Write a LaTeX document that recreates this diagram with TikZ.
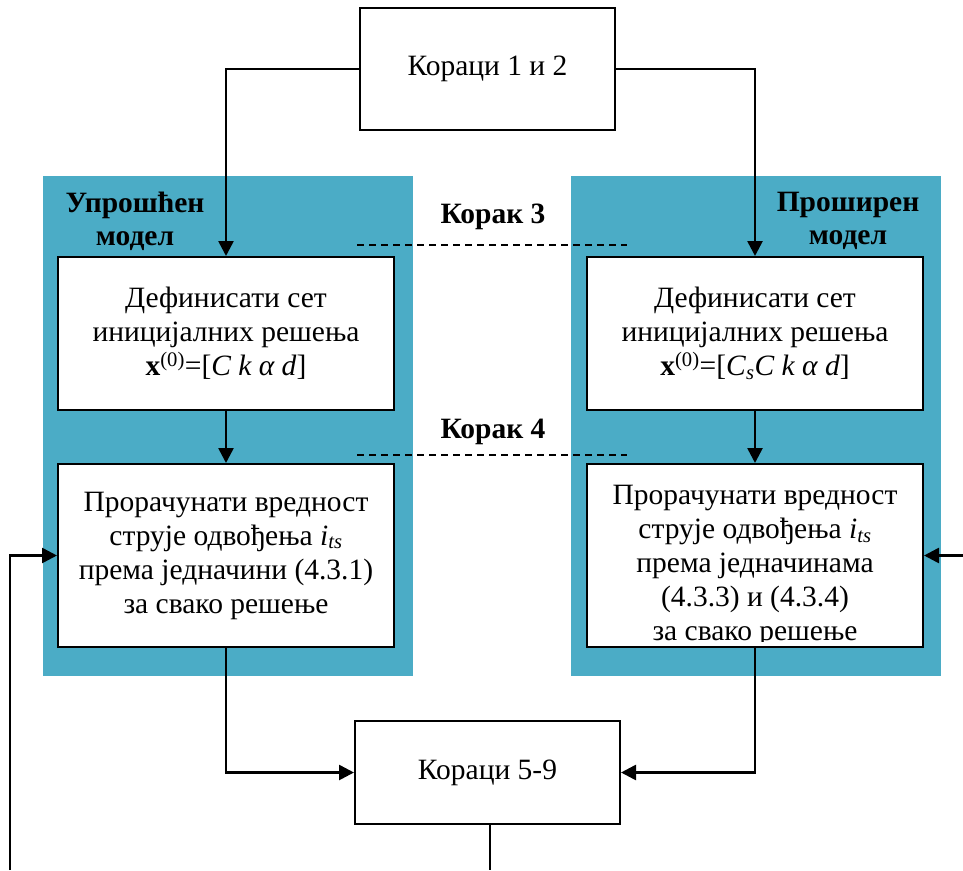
\documentclass[tikz,border=0pt]{standalone}
\usepackage{fontspec}
\setmainfont{Liberation Serif}
\usetikzlibrary{arrows.meta}
\definecolor{panelblue}{RGB}{75,172,198}
\begin{document}
\begin{tikzpicture}[x=1pt,y=-1pt,
  txt/.style={font=\fontsize{29.5}{34}\selectfont, align=center, inner sep=0},
  box/.style={draw, line width=2pt, fill=white, inner sep=0, txt},
  panel/.style={fill=panelblue, inner sep=0},
  lbl/.style={font=\fontsize{29.5}{33}\selectfont\bfseries, align=center, inner sep=0},
  conn/.style={line width=2.6pt, -{Triangle[length=15pt,width=15pt]}},
  wire/.style={line width=2.6pt},
  dashline/.style={line width=1.8pt, dash pattern=on 7pt off 5pt}]
\useasboundingbox (0,0) rectangle (963,870);
% panels
\node[panel, minimum width=370, minimum height=500] (pL) at (228,426) {};
\node[panel, minimum width=370, minimum height=500] (pR) at (756,426) {};
% boxes
\node[box, minimum width=255, minimum height=122] (top) at (487.5,69) {Кораци 1 и 2};
\node[box, minimum width=336, minimum height=153] (lb1) at (226,333.5)
  {Дефинисати сет\\иницијалних решења\\\textbf{x}\textsuperscript{(0)}=[\textit{C k α d}]};
\node[box, minimum width=336, minimum height=153] (rb1) at (755,333.5)
  {Дефинисати сет\\иницијалних решења\\\textbf{x}\textsuperscript{(0)}=[\textit{C}\textsubscript{\textit{s}}\textit{C k α d}]};
\node[box, minimum width=336, minimum height=183] (lb2) at (226,555.5)
  {Прорачунати вредност\\струје одвођења \textit{i}\textsubscript{\textit{ts}}\\према једначини (4.3.1)\\за свако решење};
\node[box, minimum width=336, minimum height=183] (rb2) at (755,555.5) {};
\begin{scope}
  \clip (589,466) rectangle (921,641);
  \node[txt] (rb2t) at (755,566)
    {Прорачунати вредност\\струје одвођења \textit{i}\textsubscript{\textit{ts}}\\према једначинама\\(4.3.3) и (4.3.4)\\за свако решење};
\end{scope}
\node[box, minimum width=265, minimum height=103] (b59) at (487.5,772.5) {Кораци 5-9};
% labels
\node[lbl] (lblL) at (135,221) {Упрошћен\\модел};
\node[lbl] (lblR) at (848,221) {Проширен\\модел};
\node[lbl] (k3) at (493,217) {Корак 3};
\node[lbl] (k4) at (493,432) {Корак 4};
% dashed lines
\coordinate (d3a) at (357,245); \coordinate (d3b) at (627,245);
\coordinate (d4a) at (357,455); \coordinate (d4b) at (627,455);
\draw[dashline] (d3a) -- (d3b);
\draw[dashline] (d4a) -- (d4b);
% connectors
\draw[conn] (top.west) -| (lb1.north);
\draw[conn] (top.east) -| (rb1.north);
\draw[conn] (lb1.south) -- (lb2.north);
\draw[conn] (rb1.south) -- (rb2.north);
\draw[conn] (lb2.south) |- (b59.west);
\draw[conn] (rb2.south) |- (b59.east);
\coordinate (bend) at (490,870);
\draw[wire] (b59.south -| bend) -- (bend);
\coordinate (fl) at (10,870);
\draw[conn] (fl) |- (lb2.west);
\coordinate (fr) at (963,555.5);
\draw[conn] (fr) -- (rb2.east);
\end{tikzpicture}
\end{document}
